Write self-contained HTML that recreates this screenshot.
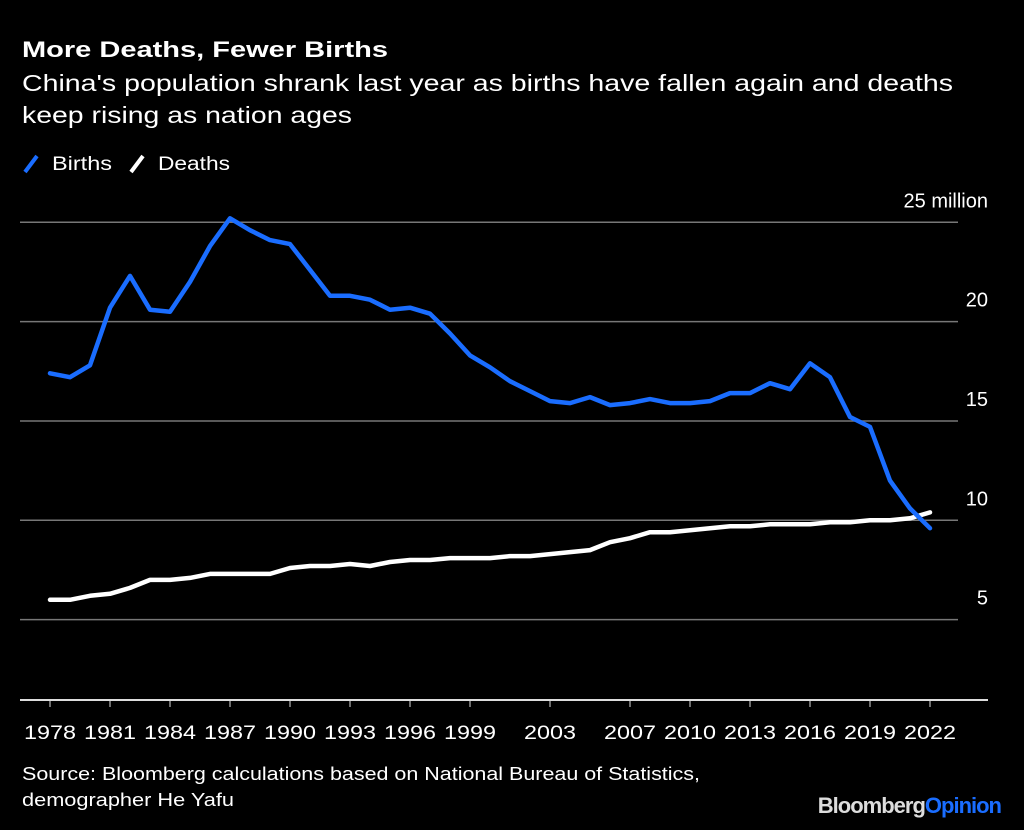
<!DOCTYPE html>
<html><head><meta charset="utf-8">
<style>
body{margin:0;background:#000;width:1024px;height:830px;overflow:hidden;font-family:"Liberation Sans",sans-serif;color:#fff}
svg{position:absolute;left:0;top:0}
</style></head>
<body>
<svg width="1024" height="830">
<text x="22" y="57" font-size="22" font-weight="bold" fill="#fff" textLength="366" lengthAdjust="spacingAndGlyphs">More Deaths, Fewer Births</text>
<text x="22" y="91" font-size="23" fill="#fff" textLength="931" lengthAdjust="spacingAndGlyphs">China's population shrank last year as births have fallen again and deaths</text>
<text x="22" y="123" font-size="23" fill="#fff" textLength="330" lengthAdjust="spacingAndGlyphs">keep rising as nation ages</text>
<g>
<line x1="25" y1="172" x2="37" y2="156" stroke="#1a6dff" stroke-width="4"/>
<text x="52" y="170" font-size="19" fill="#fff" textLength="60" lengthAdjust="spacingAndGlyphs">Births</text></g>
<g>
<line x1="131" y1="172" x2="143" y2="156" stroke="#fff" stroke-width="4"/>
<text x="158" y="170" font-size="19" fill="#fff" textLength="72" lengthAdjust="spacingAndGlyphs">Deaths</text></g>
<g id="grid"></g><g id="xaxis"></g><g id="series"></g>
<text x="22" y="780" font-size="18" fill="#fff" textLength="678" lengthAdjust="spacingAndGlyphs">Source: Bloomberg calculations based on National Bureau of Statistics,</text>
<text x="22" y="806" font-size="18" fill="#fff" textLength="212" lengthAdjust="spacingAndGlyphs">demographer He Yafu</text>
<text x="1001" y="813" font-size="22" font-weight="bold" text-anchor="end" letter-spacing="-1"><tspan fill="#ddd">Bloomberg</tspan><tspan fill="#1a6dff">Opinion</tspan></text>
</svg>
<script>
const years=[];for(let y=1978;y<=2022;y++)years.push(y);
const births=[17.4,17.2,17.8,20.7,22.3,20.6,20.5,22.0,23.8,25.2,24.6,24.1,23.9,22.6,21.3,21.3,21.1,20.6,20.7,20.4,19.4,18.3,17.7,17.0,16.5,16.0,15.9,16.2,15.8,15.9,16.1,15.9,15.9,16.0,16.4,16.4,16.9,16.6,17.9,17.2,15.2,14.7,12.0,10.6,9.6];
const deaths=[6.0,6.0,6.2,6.3,6.6,7.0,7.0,7.1,7.3,7.3,7.3,7.3,7.6,7.7,7.7,7.8,7.7,7.9,8.0,8.0,8.1,8.1,8.1,8.2,8.2,8.3,8.4,8.5,8.9,9.1,9.4,9.4,9.5,9.6,9.7,9.7,9.8,9.8,9.8,9.9,9.9,10.0,10.0,10.1,10.4];
const yTicks=[5,10,15,20,25];
const yTickLabels=["5","10","15","20","25 million"];
const xTicks=[1978,1981,1984,1987,1990,1993,1996,1999,2003,2007,2010,2013,2016,2019,2022];
const NS="http://www.w3.org/2000/svg";
const xs=y=>50+(y-1978)*20;
const ys=v=>719-v*19.87;
function mk(t,a,p){const e=document.createElementNS(NS,t);for(const k in a)e.setAttribute(k,a[k]);p.appendChild(e);return e;}
const grid=document.getElementById('grid');
yTicks.forEach((v,i)=>{
 const l=mk('line',{x1:20,x2:958,y1:ys(v),y2:ys(v),stroke:'#777','stroke-width':1.5},grid);
 
 
 const t=mk('text',{x:988,y:ys(v)-15,'font-size':20,fill:'#fff','text-anchor':'end'},grid);
 t.textContent=yTickLabels[i];
 
 
});
const xa=document.getElementById('xaxis');
const al=mk('line',{x1:20,x2:988,y1:700,y2:700,stroke:'#ddd','stroke-width':2},xa);


xTicks.forEach(y=>{
 mk('line',{x1:xs(y),x2:xs(y),y1:700,y2:707,stroke:'#ddd','stroke-width':1},xa);
 const t=mk('text',{x:xs(y),y:739,'font-size':19,fill:'#fff','text-anchor':'middle',textLength:52,lengthAdjust:'spacingAndGlyphs'},xa);
 t.textContent=y;
 
 
});
const s=document.getElementById('series');
function line(arr,col,name){
 const d=arr.map((v,i)=>(i?'L':'M')+xs(years[i])+','+ys(v).toFixed(1)).join('');
 const p=mk('path',{d:d,fill:'none',stroke:col,'stroke-width':4.5,'stroke-linejoin':'round','stroke-linecap':'round'},s);
 
 
}
line(deaths,'#fff','deaths-line');
line(births,'#1a6dff','births-line');
</script>
</body></html>
